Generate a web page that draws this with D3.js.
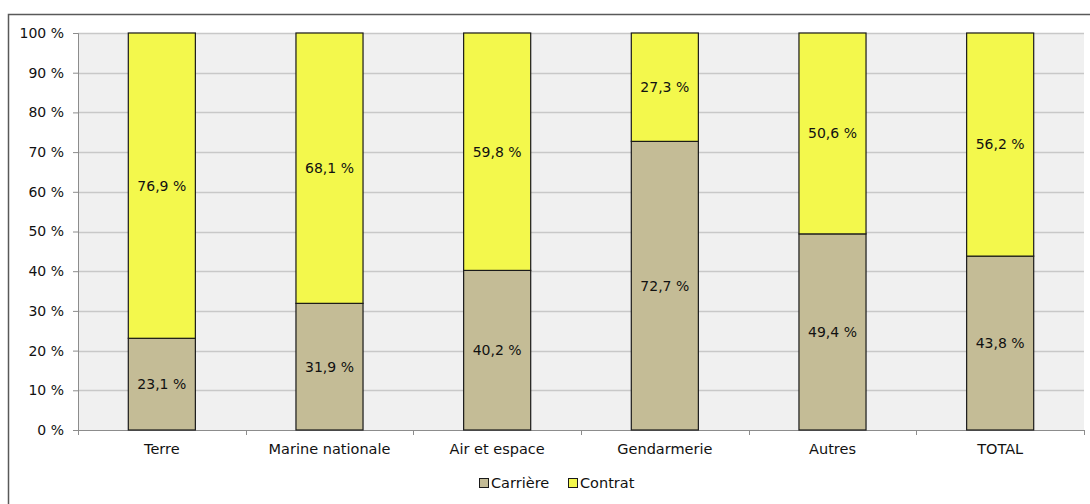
<!DOCTYPE html>
<html><head><meta charset="utf-8">
<script src="https://cdn.jsdelivr.net/npm/d3@7"></script>
<style>
html,body{margin:0;padding:0;background:#fff;}
svg{display:block;}
svg text{font-family:"DejaVu Sans",sans-serif;}
</style></head>
<body>
<script>
const categories = ["Terre","Marine nationale","Air et espace","Gendarmerie","Autres","TOTAL"];
const carriere = [23.1,31.9,40.2,72.7,49.4,43.8];
const contrat = [76.9,68.1,59.8,27.3,50.6,56.2];
const seriesNames = ["Carrière","Contrat"];
const seriesColors = ["#c4bc96","#f3f84c"];
const yTicks = [0,10,20,30,40,50,60,70,80,90,100];

const W=1090,H=504,FS=14.5,FSY=14;
const m={left:78,right:1084,top:33,bottom:430};
const svg=d3.select("body").append("svg").attr("width",W).attr("height",H);

// outer frame
svg.append("rect").attr("x",8.5).attr("y",14.5).attr("width",W+10).attr("height",H+10)
  .attr("fill","#fff").attr("stroke","#595959").attr("stroke-width",1.5);

const x=d3.scaleBand().domain(categories).range([m.left,m.right]).paddingInner(0.6).paddingOuter(0.3);
const xb=d3.scaleBand().domain(categories).range([m.left,m.right]);
const y=d3.scaleLinear().domain([0,100]).range([m.bottom,m.top]);

svg.append("rect").attr("x",m.left).attr("y",m.top).attr("width",m.right-m.left).attr("height",m.bottom-m.top).attr("fill","#f0f0f0");

// grid
svg.append("g").selectAll("line").data(yTicks.filter(d=>d>0)).join("line")
  .attr("x1",m.left).attr("x2",m.right).attr("y1",d=>Math.round(y(d))+0.5).attr("y2",d=>Math.round(y(d))+0.5)
  .attr("stroke","#c8c8c8").attr("stroke-width",1.5);

// y axis
const yAxis=d3.axisLeft(y).tickValues(yTicks).tickFormat(d=>d+" %").tickSize(5).tickPadding(9);
const gy=svg.append("g").attr("transform",`translate(${m.left},0)`).call(yAxis);
gy.attr("font-family",null).attr("font-size",FSY);
gy.select(".domain").attr("stroke","#8c8c8c");
gy.selectAll(".tick line").attr("stroke","#8c8c8c");
gy.selectAll("text").attr("font-size",FSY).attr("fill","#111");

// x axis
const gx=svg.append("g").attr("transform",`translate(0,${m.bottom})`)
  .call(d3.axisBottom(xb).tickSize(0).tickPadding(14));
gx.attr("font-family",null).attr("font-size",FS);
gx.select(".domain").attr("stroke","#8c8c8c");
gx.selectAll("text").attr("font-size",FS).attr("fill","#111");
const bounds=categories.map(c=>xb(c)).concat([m.right]);
svg.append("g").selectAll("line").data(bounds).join("line")
  .attr("x1",d=>Math.round(d)+0.5).attr("x2",d=>Math.round(d)+0.5).attr("y1",m.bottom).attr("y2",m.bottom+5)
  .attr("stroke","#8c8c8c");

// bars
const data=categories.map((c,i)=>({cat:c,vals:[carriere[i],contrat[i]]}));
const stack=d3.stack().keys([0,1]).value((d,k)=>d.vals[k])(data);
const fmt=v=>v.toFixed(1).replace(".",",")+" %";
stack.forEach((layer,k)=>{
  const g=svg.append("g");
  g.selectAll("rect").data(layer).join("rect")
    .attr("x",d=>x(d.data.cat)).attr("width",x.bandwidth())
    .attr("y",d=>y(d[1])).attr("height",d=>y(d[0])-y(d[1]))
    .attr("fill",seriesColors[k]).attr("stroke","#1a1a1a").attr("stroke-width",1.2);
  g.selectAll("text").data(layer).join("text")
    .attr("x",d=>x(d.data.cat)+x.bandwidth()/2).attr("y",d=>(y(d[0])+y(d[1]))/2)
    .attr("dy","0.35em").attr("text-anchor","middle").attr("font-size",FSY).attr("fill","#111")
    .text(d=>fmt(d.data.vals[k]));
});

// legend
const lg=svg.append("g");
const items=[{n:seriesNames[0],c:seriesColors[0],x:479},{n:seriesNames[1],c:seriesColors[1],x:568}];
items.forEach(it=>{
  lg.append("rect").attr("x",it.x+0.5).attr("y",478.5).attr("width",9).attr("height",9)
    .attr("fill",it.c).attr("stroke","#1a1a1a").attr("stroke-width",1);
  lg.append("text").attr("x",it.x+12).attr("y",483).attr("dy","0.35em").attr("font-size",FS).attr("fill","#111").text(it.n);
});
</script>
</body></html>
